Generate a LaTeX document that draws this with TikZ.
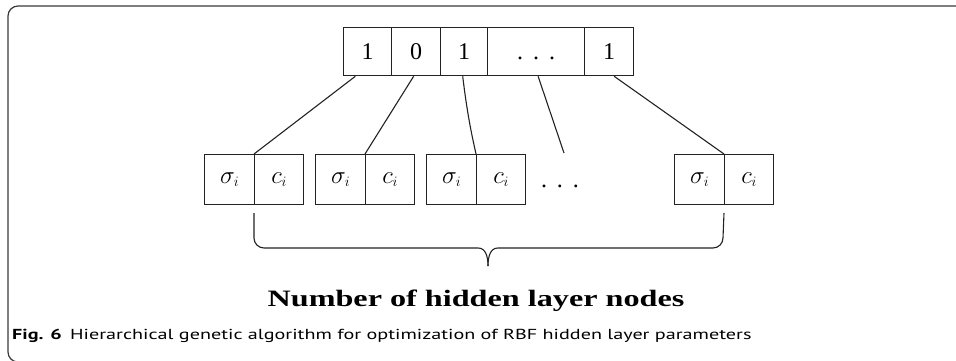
\documentclass[tikz,border=0pt]{standalone}
\usepackage{fontspec}
\setmainfont{Liberation Serif}
\newfontfamily\capfont{PT Sans}
\usetikzlibrary{calc}
\definecolor{ink}{HTML}{222222}
\definecolor{framegray}{HTML}{3A3A3A}
\tikzset{
  cell/.style={draw=ink, line width=1.3pt, minimum height=48pt, inner sep=0pt,
               anchor=north west, font=\fontsize{24pt}{24pt}\selectfont},
  gene/.style={cell, minimum height=50pt, font=\fontsize{28pt}{28pt}\selectfont},
  link/.style={draw=ink, line width=1.1pt},
}
\begin{document}
\begin{tikzpicture}[x=1pt, y=-1pt]
\useasboundingbox (0,0) rectangle (956,360);
% outer frame, open towards the right and bottom
\begin{scope}
\clip (0,0) rectangle (956,360);
\draw[framegray, line width=1.2pt, rounded corners=10pt] (8,6) rectangle (980,362);
\end{scope}

% chromosome of control genes
\node[cell, minimum width=48pt] (t1) at (343,27) {1};
\node[cell, minimum width=49pt] (t2) at (391,27) {0};
\node[cell, minimum width=47pt] (t3) at (440,27) {1};
\node[cell, minimum width=97pt] (t4) at (487,27) {\vphantom{1}.\hspace{10pt}.\hspace{10pt}.};
\node[cell, minimum width=49pt] (t5) at (584,27) {1};

% parameter genes (width, centre) of each hidden node
\foreach \k/\x in {1/204, 2/315, 3/426, 4/674}{
  \node[gene, minimum width=50pt] (s\k) at (\x,154) {$\sigma_{\scriptscriptstyle i}$};
  \node[gene, minimum width=49pt] (c\k) at (\x+50,154) {$c_{\scriptscriptstyle i}$};
}
\node[font=\fontsize{24pt}{24pt}\selectfont, anchor=base] (dots) at (560,187) {.\hspace{10pt}.\hspace{10pt}.};
\coordinate (dotsend) at (564,153);

% links from control genes to parameter genes
\draw[link] ($(t1.south west)!0.25!(t1.south east)$) -- (c1.north west);
\draw[link] ($(t2.south west)!0.45!(t2.south east)$) -- (c2.north west);
\draw[link] ($(t3.south west)!0.47!(t3.south east)$) .. controls (468,120) and (473,140) .. (c3.north west);
\draw[link] ($(t4.south west)!0.52!(t4.south east)$) -- (dotsend);
\draw[link] ($(t5.south west)!0.60!(t5.south east)$) -- (c4.north west);

% brace spanning all hidden nodes
\coordinate (bl) at ($(c1.north west)+(0,59)$);
\coordinate (br) at ($(c4.north west)+(0,59)$);
\coordinate (tip) at (488,266);
\draw[link] (bl) -- (254,238) arc[start angle=180, end angle=90, x radius=10pt, y radius=-10pt]
  -- (478,248) .. controls (485,248) and (488,255) .. (tip);
\draw[link] (br) -- (723,238) arc[start angle=0, end angle=90, x radius=10pt, y radius=-10pt]
  -- (498,248) .. controls (491,248) and (488,255) .. (tip);

\node[anchor=base, inner sep=0pt] (title) at (476,306)
  {\scalebox{1.37}[1]{\fontsize{23.5pt}{23.5pt}\selectfont\bfseries Number of hidden layer nodes}};

\node[anchor=base west, inner sep=0pt] (caption) at (12,339)
  {\scalebox{1.39}[1]{\capfont\fontsize{14.5pt}{14.5pt}\selectfont\textbf{Fig. 6}\hspace{6pt}Hierarchical genetic algorithm for optimization of RBF hidden layer parameters}};
\end{tikzpicture}
\end{document}
